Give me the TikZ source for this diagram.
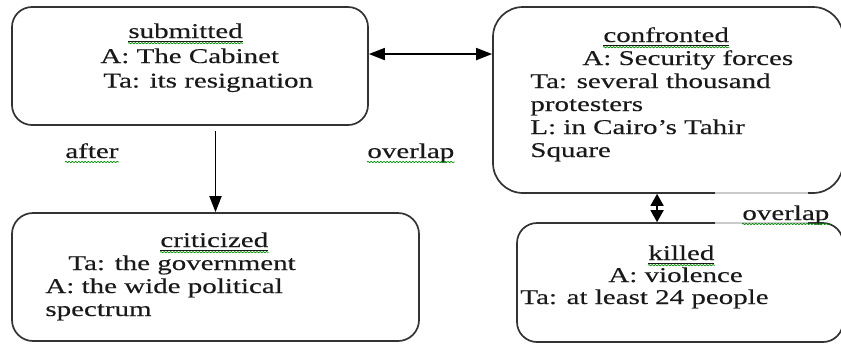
\documentclass[tikz,border=0pt]{standalone}
\usepackage{fontspec}
\setmainfont{Liberation Serif}[FakeStretch=1.38, FakeBold=0.3]
\usetikzlibrary{arrows.meta,calc,decorations.pathmorphing}
\tikzset{
	evbox/.style={draw=black!80, line width=0.85pt, rounded corners=#1, inner sep=0pt},
	evbox/.default=10pt,
	evtext/.style={anchor=base west, inner sep=0pt, align=left, text=black!90},
	spell/.style={draw=green!55!black, line width=0.35pt, decorate, decoration={snake, segment length=1.6pt, amplitude=0.35pt}},
}
\begin{document}
\begin{tikzpicture}[x=0.5pt, y=-0.5pt, font=\fontsize{10.5}{11.5}\selectfont, line join=round, >={Triangle[length=8pt,width=6pt]}]
		\useasboundingbox (0,0) rectangle (841,344);
		\node[evbox, minimum width=178pt, minimum height=59pt] (submitted) at (190,66) {};
		\node[evbox=15pt, minimum width=175pt, minimum height=93pt] (confronted) at (668,100) {};
		\node[evbox=10.5pt, minimum width=203.5pt, minimum height=64pt] (criticized) at (215.5,277) {};
		\node[evbox, minimum width=163pt, minimum height=59.5pt] (killed) at (680,282.5) {};
		\node[evtext] (subname) at (128,38) {\underline{submitted}};
		\node[evtext] (conname) at (603,42) {\underline{confronted}};
		\node[evtext] (criname) at (160,247) {\underline{criticized}};
		\node[evtext] (kilname) at (648,260) {\underline{killed}};
		\node[evtext, font=\fontsize{10.5}{12.25}\selectfont] (subtext) at (100,63) {\begin{tabular}[t]{@{}l@{}}
				A: The Cabinet\\
				\hspace*{1.5pt}Ta: its resignation\end{tabular}};
		\node[evtext] (context) at (530,65) {\begin{tabular}[t]{@{}l@{}}
				\hspace*{26pt}A: Security forces\\
				Ta: several thousand\\
				protesters\\
				L: in Cairo’s Tahir\\
				Square\end{tabular}};
		\node[evtext] (critext) at (45,270) {\begin{tabular}[t]{@{}l@{}}
				\hspace*{11.5pt}Ta: the government\\
				A: the wide political\\
				spectrum\end{tabular}};
		\node[evtext, font=\fontsize{10.5}{11}\selectfont] (kiltext) at (520,282) {\begin{tabular}[t]{@{}l@{}}
				\hspace*{44pt}A: violence\\
				Ta: at least 24 people\end{tabular}};
		\draw[<->, line width=0.9pt] ($(submitted.north east)!0.4!(submitted.south east)$) coordinate (h1) -- (h1 -| confronted.west);
		\draw[->, line width=0.9pt] ([yshift=-2.5pt]submitted.south -| criticized.north) -- (criticized.north);
		\draw[<->, line width=0.9pt, >={Triangle[length=6pt,width=6.5pt]}] ($(killed.north west)!0.43!(killed.north east)$) coordinate (v1) -- (v1 |- confronted.south);
		\fill[white, opacity=0.75] (715,188) rectangle (808,228);
		\node[evtext] (after) at (65,158) {after};
		\node[evtext] (overlap1) at (367,158) {overlap};
		\node[evtext] (overlap2) at (742,220) {overlap};
		\foreach \w in {subname,conname,criname,kilname}
			\path[spell] ([yshift=-2.6pt]\w.base west) -- ([yshift=-2.6pt]\w.base east);
		\foreach \w in {after,overlap1,overlap2}
			\path[spell] ([yshift=-2pt]\w.base west) -- ([yshift=-2pt]\w.base east);
	\end{tikzpicture}
\end{document}
